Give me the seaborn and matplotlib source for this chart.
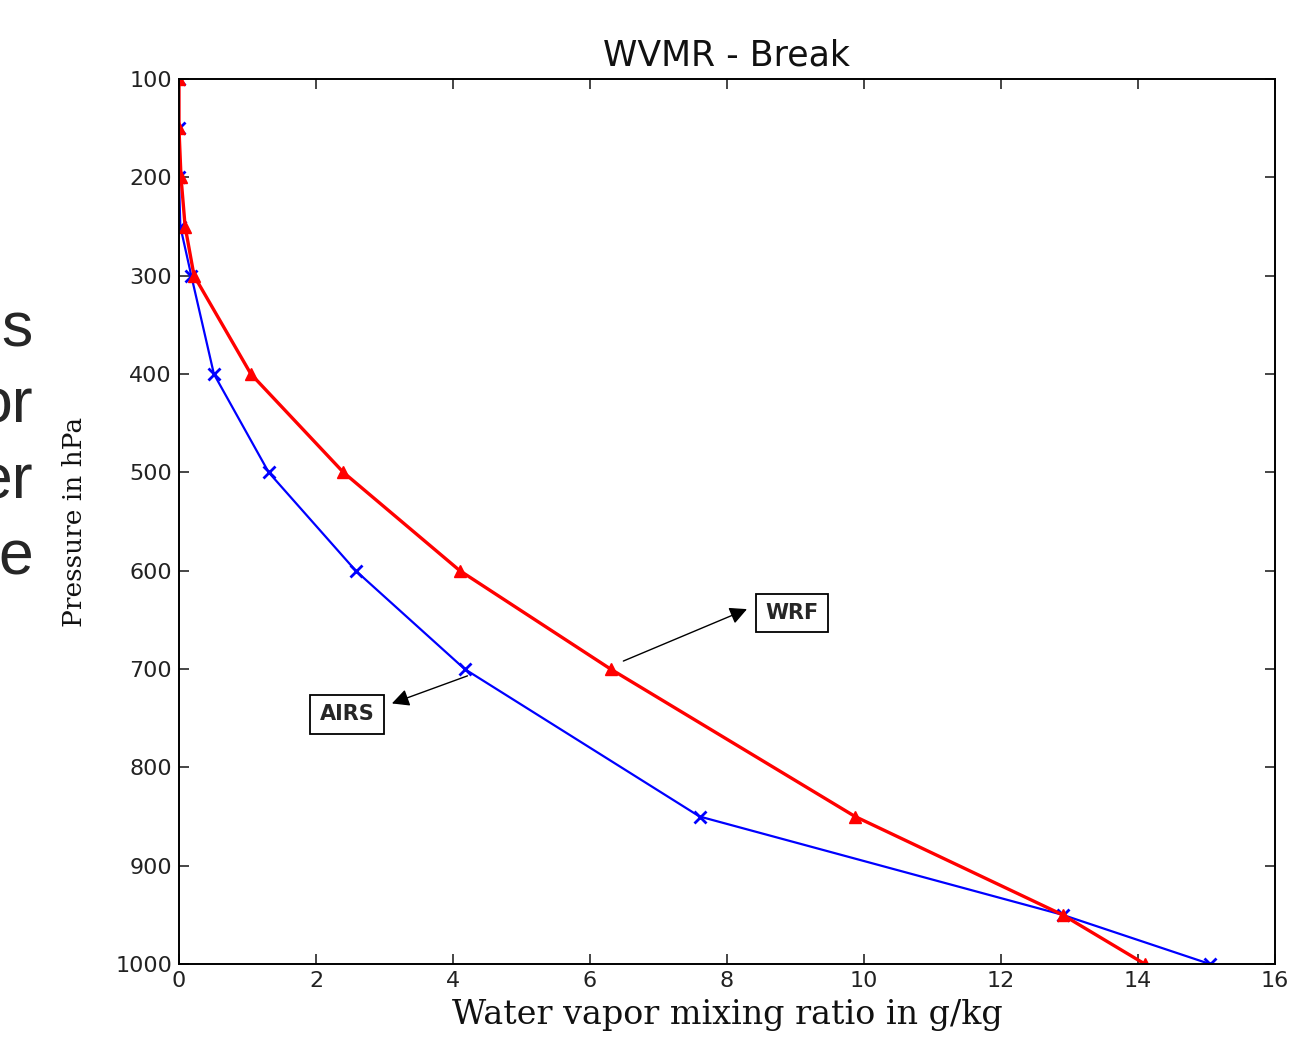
import matplotlib
matplotlib.use("Agg")
import matplotlib.pyplot as plt
import seaborn as sns
import pandas as pd

# pressure levels (hPa)
pressure = [100, 150, 200, 250, 300, 400, 500, 600, 700, 850, 950, 1000]
# water vapor mixing ratio g/kg
wrf = [0.0, 0.0, 0.03, 0.09, 0.22, 1.05, 2.4, 4.1, 6.3, 9.87, 12.9, 14.1]
airs = [0.0, 0.0, 0.0, 0.02, 0.18, 0.51, 1.31, 2.58, 4.17, 7.6, 12.9, 15.05]

xticks = [0, 2, 4, 6, 8, 10, 12, 14, 16]
yticks = [100, 200, 300, 400, 500, 600, 700, 800, 900, 1000]
side_words = ["s", "or", "er", "e"]

df_wrf = pd.DataFrame({"q": wrf, "p": pressure})
df_airs = pd.DataFrame({"q": airs, "p": pressure})

sns.set_style("ticks")
plt.rcParams["font.family"] = ["DejaVu Sans"]

fig = plt.figure(figsize=(12.94, 10.45), dpi=100)
ax = fig.add_axes([0.1383, 0.0775, 0.847, 0.8469])

sns.lineplot(data=df_airs, x="q", y="p", orient="y", estimator=None, color="#0000ff",
             linewidth=1.6, marker="x", markersize=8, markeredgewidth=2, markeredgecolor="#0000ff", ax=ax)
sns.lineplot(data=df_wrf, x="q", y="p", orient="y", estimator=None, color="#ff0000",
             linewidth=2.4, marker="^", markersize=9, markeredgewidth=1, markeredgecolor="#ff0000", ax=ax)

ax.set_xlim(0, 16)
ax.set_ylim(1000, 100)
ax.set_xticks(xticks)
ax.set_yticks(yticks)
ax.tick_params(direction="in", top=True, right=True, length=7, width=1.2,
               labelsize=16, labelcolor="#222222", pad=5)
for s in ax.spines.values():
    s.set_linewidth(1.4)
    s.set_color("black")

ax.set_title("WVMR - Break", fontsize=25, pad=10, color="#111111")
ax.set_xlabel("Water vapor mixing ratio in g/kg", fontsize=24, family="DejaVu Serif",
              color="#111111", labelpad=6)
ax.set_ylabel("Pressure in hPa", fontsize=19, family="DejaVu Serif",
              color="#111111", labelpad=20)

box = dict(boxstyle="square,pad=0.45", facecolor="white", edgecolor="black", linewidth=1.3)
ax.text(8.95, 643, "WRF", fontsize=15, fontweight="bold", ha="center", va="center", bbox=box)
ax.text(2.45, 746, "AIRS", fontsize=15, fontweight="bold", ha="center", va="center", bbox=box)

arrow = dict(arrowstyle="-|>", color="black", linewidth=1.0, mutation_scale=26)
ax.annotate("", xy=(8.33, 638), xytext=(6.45, 693), arrowprops=arrow)
ax.annotate("", xy=(3.07, 736), xytext=(4.25, 706), arrowprops=arrow)

for i, w in enumerate(side_words):
    fig.text(33 / 1294, 1 - (330 + i * 76) / 1045, w, fontsize=45,
             family="Liberation Sans", ha="right", va="center")

fig.savefig("out.png", dpi=100)
